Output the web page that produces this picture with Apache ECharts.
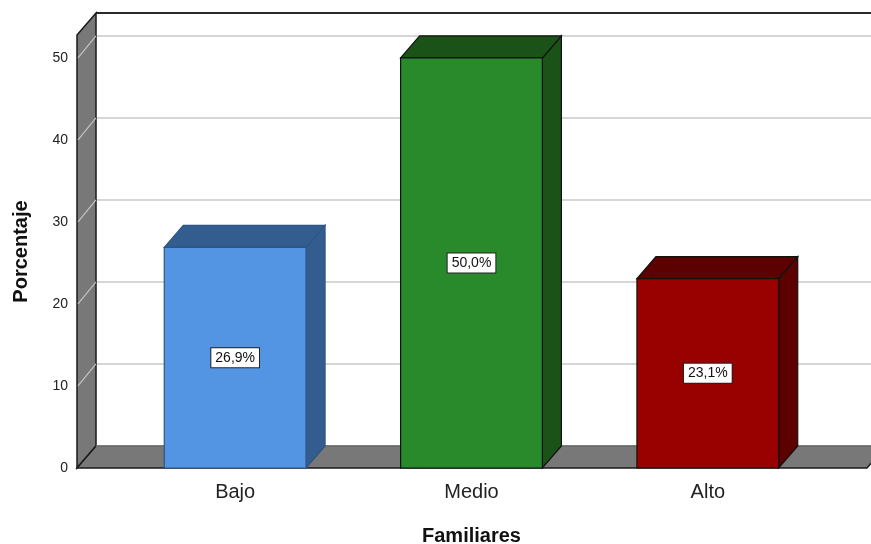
<!DOCTYPE html>
<html>
<head>
<meta charset="utf-8">
<script src="https://cdn.jsdelivr.net/npm/echarts@6/dist/echarts.min.js"></script>
<style>
html,body{margin:0;padding:0;background:#fff;}
#chart{width:871px;height:544px;}
</style>
</head>
<body>
<div id="chart"></div>
<script>
const categories = ['Bajo', 'Medio', 'Alto'];
const values = [26.9, 50.0, 23.1];
const valueLabels = ['26,9%', '50,0%', '23,1%'];
const yTicks = [0, 10, 20, 30, 40, 50];
const frontColors = ['#5394E3', '#288A2B', '#990000'];
const shadeColors = ['#335D8E', '#1B5218', '#5C0000'];
const edgeColors = ['#2E5583', '#111111', '#111111'];

const DX = 19, DY = 22;
const FONT = '"Liberation Sans", Arial, sans-serif';

const chart = echarts.init(document.getElementById('chart'));

function bgRender(params, api) {
  const cs = params.coordSys;
  const L = cs.x - 40, R = cs.x + cs.width + 41;
  const y0 = api.coord([0, 0])[1];
  const yTop = cs.y;
  const children = [];
  children.push({type: 'line', shape: {x1: L + DX, y1: yTop - DY, x2: R + DX + 20, y2: yTop - DY},
    style: {stroke: '#2a2a2a', lineWidth: 2}});
  yTicks.forEach(t => {
    if (t === 0) return;
    const y = api.coord([0, t])[1];
    children.push({type: 'line', shape: {x1: L + DX, y1: y - DY, x2: R + DX + 20, y2: y - DY},
      style: {stroke: '#d6d6d6', lineWidth: 2}});
  });
  children.push({type: 'polygon', shape: {points: [[L, yTop], [L + DX, yTop - DY], [L + DX, y0 - DY], [L, y0]]},
    style: {fill: '#787878', stroke: '#1a1a1a', lineWidth: 1.5}});
  yTicks.forEach(t => {
    if (t === 0) return;
    const y = api.coord([0, t])[1];
    children.push({type: 'line', shape: {x1: L + 1, y1: y, x2: L + DX, y2: y - DY},
      style: {stroke: '#c4c4c4', lineWidth: 1.2}});
  });
  children.push({type: 'polygon', shape: {points: [[L, y0], [L + DX, y0 - DY], [R + DX, y0 - DY], [R, y0]]},
    style: {fill: '#787878', stroke: '#1a1a1a', lineWidth: 1.5}});
  children.push({type: 'line', shape: {x1: L + DX, y1: y0 - DY, x2: R + DX, y2: y0 - DY},
    style: {stroke: '#a8a8a8', lineWidth: 1}});
  return {type: 'group', children};
}

function barRender(params, api) {
  const i = api.value(0), v = api.value(1);
  const top = api.coord([i, v]);
  const base = api.coord([i, 0]);
  const w = api.size([1, 0])[0] * 0.6;
  const x1 = top[0] - w / 2, x2 = top[0] + w / 2, yT = top[1], yB = base[1];
  const idx = params.dataIndex;
  const edge = edgeColors[idx];
  return {
    type: 'group',
    children: [
      {type: 'polygon', shape: {points: [[x2, yT], [x2 + DX, yT - DY], [x2 + DX, yB - DY], [x2, yB]]},
        style: {fill: shadeColors[idx], stroke: edge, lineWidth: 1.2}},
      {type: 'polygon', shape: {points: [[x1, yT], [x1 + DX, yT - DY], [x2 + DX, yT - DY], [x2, yT]]},
        style: {fill: shadeColors[idx], stroke: edge, lineWidth: 1.2}},
      {type: 'rect', shape: {x: x1, y: yT, width: w, height: yB - yT},
        style: {fill: frontColors[idx], stroke: edge, lineWidth: 1.2}},
      {type: 'text', x: top[0], y: (yT + yB) / 2,
        style: {text: valueLabels[idx], align: 'center', verticalAlign: 'middle',
          font: '14px ' + FONT, fill: '#111', backgroundColor: '#fff',
          borderColor: '#222', borderWidth: 1, padding: [3, 4, 2, 4]}}
    ]
  };
}

chart.setOption({
  animation: false,
  backgroundColor: '#fff',
  grid: {left: 117, right: 45, top: 35, bottom: 76, outerBoundsMode: 'none', containLabel: false},
  xAxis: {
    type: 'category', data: categories,
    axisLine: {show: false}, axisTick: {show: false},
    axisLabel: {fontSize: 20, color: '#222', margin: 14, fontFamily: FONT},
    name: 'Familiares', nameLocation: 'middle', nameGap: 58,
    nameTextStyle: {fontSize: 20, fontWeight: 'bold', color: '#111', fontFamily: FONT}
  },
  yAxis: {
    type: 'value', min: 0, max: 52.8, interval: 10,
    axisLine: {show: false}, axisTick: {show: false}, splitLine: {show: false},
    axisLabel: {fontSize: 14, color: '#222', margin: 49, fontFamily: FONT,
      formatter: v => (yTicks.indexOf(v) >= 0 ? String(v) : '')},
    name: 'Porcentaje', nameLocation: 'middle', nameGap: 86,
    nameTextStyle: {fontSize: 20, fontWeight: 'bold', color: '#111', fontFamily: FONT}
  },
  series: [
    {type: 'custom', renderItem: bgRender, data: [[0, 0]], silent: true, z: 1, clip: false},
    {type: 'custom', renderItem: barRender, data: values.map((v, i) => [i, v]), z: 2, clip: false}
  ]
});
</script>
</body>
</html>
